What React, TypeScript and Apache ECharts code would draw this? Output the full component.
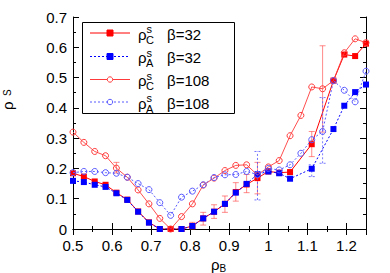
import React, { useEffect, useRef } from 'react';
import * as echarts from 'echarts';

// rho_B values (x)
const rhoB = [0.5, 0.5278, 0.5556, 0.5833, 0.6111, 0.6389, 0.6667, 0.6944, 0.7222, 0.75,
  0.7778, 0.8056, 0.8333, 0.8611, 0.8889, 0.9167, 0.9444, 0.9722, 1.0, 1.0278,
  1.0556, 1.0833, 1.1111, 1.1389, 1.1667, 1.1944, 1.2222, 1.25];

// rho_C^s beta=32 (red filled squares)
const rhoC32 = [0.184, 0.173, 0.157, 0.146, 0.12, 0.097, 0.058, 0.022, 0, 0,
  0, 0.01, 0.035, 0.057, 0.083, 0.122, 0.147, 0.168, 0.19, 0.186,
  0.188, null, 0.28, null, 0.49, 0.576, 0.571, 0.612];
// rho_A^s beta=32 (blue filled squares)
const rhoA32 = [0.159, 0.155, 0.146, 0.139, 0.118, 0.096, 0.057, 0.021, 0, null,
  0, 0.01, 0.035, 0.057, 0.083, 0.12, 0.149, 0.181, 0.19, 0.184,
  0.166, null, 0.199, null, 0.33, 0.407, 0.452, 0.477];
// rho_C^s beta=108 (red open circles)
const rhoC108 = [0.32, 0.286, 0.256, 0.242, 0.201, 0.171, 0.129, 0.083, 0.035, 0.0,
  0.041, 0.083, 0.145, 0.168, 0.193, 0.21, 0.212, 0.178, 0.205, 0.226,
  0.308, 0.375, 0.469, 0.463, 0.49, 0.582, 0.628, 0.615];
// rho_A^s beta=108 (blue open circles)
const rhoA108 = [0.186, 0.19, 0.19, 0.186, 0.184, 0.171, 0.15, 0.13, 0.087, 0.045,
  0.105, 0.125, 0.146, 0.17, 0.179, 0.18, 0.19, 0.18, 0.2, 0.195,
  0.212, 0.25, 0.295, 0.322, 0.49, 0.458, 0.42, 0.521];

// error bars [x, low, high]
const errC32 = [
  [0.8056, 0.0, 0.022],
  [0.8333, 0.013, 0.055],
  [0.8611, 0.035, 0.08],
  [0.8889, 0.055, 0.109],
  [0.9167, 0.092, 0.153],
  [0.9444, 0.12, 0.18],
  [0.9722, 0.116, 0.22],
  [1.1111, 0.239, 0.322],
];
const errA32 = [
  [0.9722, 0.096, 0.256],
  [1.1111, 0.173, 0.212],
];
const errC108 = [
  [0.6111, 0.185, 0.22],
  [1.1389, 0.32, 0.605],
];
const errA108 = [
  [1.1389, 0.217, 0.434],
];

const xMin = 0.5, xMax = 1.25, xStep = 0.1;
const yMin = 0, yMax = 0.7, yStep = 0.1;

const legendRows = [
  { sub: 'C', beta: 'β=32' },
  { sub: 'A', beta: 'β=32' },
  { sub: 'C', beta: 'β=108' },
  { sub: 'A', beta: 'β=108' },
];

const FONT = '"Liberation Sans", Arial, Helvetica, sans-serif';
const RED = '#ff0000';
const BLUE = '#0000ff';
const RED2 = '#ff3a3a';
const BLUE2 = '#5a5aff';

const pairs = (ys: (number | null)[]) =>
  rhoB.map((x, i) => [x, ys[i]]).filter((p) => p[1] !== null);

const errSeries = (data: number[][], color: string, dashed: boolean, z: number) => ({
  type: 'custom',
  z,
  silent: true,
  data,
  encode: { x: 0, y: [1, 2] },
  renderItem: (params: any, api: any) => {
    const x = api.value(0);
    const lo = api.coord([x, api.value(1)]);
    const hi = api.coord([x, api.value(2)]);
    const w = 3;
    const style: any = { stroke: color, lineWidth: 1, lineDash: dashed ? [2, 2] : null };
    return {
      type: 'group',
      children: [
        { type: 'line', shape: { x1: lo[0], y1: lo[1], x2: hi[0], y2: hi[1] }, style },
        { type: 'line', shape: { x1: lo[0] - w, y1: lo[1], x2: lo[0] + w, y2: lo[1] }, style },
        { type: 'line', shape: { x1: hi[0] - w, y1: hi[1], x2: hi[0] + w, y2: hi[1] }, style },
      ],
    };
  },
});

const fmt = (v: number) => String(Math.round(v * 10) / 10);

export default function App() {
  const ref = useRef<HTMLDivElement>(null);
  useEffect(() => {
    if (!ref.current) return;
    const chart = echarts.init(ref.current, undefined, { renderer: 'svg' });

    const axisCommon = {
      axisLine: { show: true, lineStyle: { color: '#000', width: 1 } },
      axisTick: { show: true, inside: true, length: 6, lineStyle: { color: '#000' } },
      minorTick: { show: true, splitNumber: 2, length: 3, lineStyle: { color: '#000' } },
      splitLine: { show: false },
    };

    const rowY = [33, 56.5, 79.5, 102];
    const legendSpecs = [
      { color: RED, lineType: 'solid', marker: 'square', fill: RED },
      { color: BLUE, lineType: 'dotted', marker: 'square', fill: BLUE },
      { color: RED2, lineType: 'solid', marker: 'circle', fill: 'none' },
      { color: BLUE2, lineType: 'dotted', marker: 'circle', fill: 'none' },
    ];
    const legendEls: any[] = [
      {
        type: 'rect',
        shape: { x: 82.5, y: 22.5, width: 152, height: 91 },
        style: { fill: '#fff', stroke: '#000', lineWidth: 1 },
        z: 100,
      },
    ];
    legendRows.forEach((row, i) => {
      const r = rowY[i];
      const s = legendSpecs[i];
      legendEls.push({
        type: 'line',
        shape: { x1: 90, y1: r, x2: 130, y2: r },
        style: { stroke: s.color, lineWidth: 1, lineDash: s.lineType === 'dotted' ? [2, 2] : null },
        z: 101,
      });
      if (s.marker === 'square') {
        legendEls.push({
          type: 'rect',
          shape: { x: 107, y: r - 3, width: 6, height: 6 },
          style: { fill: s.fill, stroke: s.color, lineWidth: 1 },
          z: 102,
        });
      } else {
        legendEls.push({
          type: 'circle',
          shape: { cx: 110, cy: r, r: 2.7 },
          style: { fill: '#fff', stroke: s.color, lineWidth: 1 },
          z: 102,
        });
      }
      legendEls.push(
        { type: 'text', x: 138, y: r + 1, z: 102, style: { text: 'ρ', font: `15px ${FONT}`, fill: '#000', verticalAlign: 'middle' } },
        { type: 'text', x: 146.5, y: r - 4, z: 102, style: { text: 's', font: `11px ${FONT}`, fill: '#000', verticalAlign: 'middle' } },
        { type: 'text', x: 146, y: r + 6.5, z: 102, style: { text: row.sub, font: `11px ${FONT}`, fill: '#000', verticalAlign: 'middle' } },
        { type: 'text', x: 167, y: r + 1, z: 102, style: { text: row.beta, font: `15px ${FONT}`, fill: '#000', verticalAlign: 'middle' } },
      );
    });

    const axisNames: any[] = [
      { type: 'text', x: 211, y: 264.5, style: { text: 'ρ', font: `15px ${FONT}`, fill: '#000', verticalAlign: 'middle' } },
      { type: 'text', x: 219.5, y: 268, style: { text: 'B', font: `10px ${FONT}`, fill: '#000', verticalAlign: 'middle' } },
      {
        type: 'group',
        x: 7.5,
        y: 110,
        rotation: Math.PI / 2,
        children: [
          { type: 'text', x: 0, y: 0, style: { text: 'ρ', font: `15px ${FONT}`, fill: '#000', align: 'left', verticalAlign: 'middle' } },
          { type: 'text', x: 14, y: -0.5, style: { text: 'S', font: `10px ${FONT}`, fill: '#000', align: 'left', verticalAlign: 'middle' } },
        ],
      },
    ];

    chart.setOption({
      animation: false,
      backgroundColor: '#fff',
      textStyle: { fontFamily: FONT },
      grid: { left: 73, right: 24, top: 17, bottom: 44, containLabel: false },
      xAxis: [
        {
          type: 'value', min: xMin, max: xMax, interval: xStep, position: 'bottom',
          ...axisCommon,
          axisLabel: { show: true, formatter: fmt, fontSize: 15, color: '#000', margin: 9, fontFamily: FONT, showMaxLabel: false },
        },
        {
          type: 'value', min: xMin, max: xMax, interval: xStep, position: 'top',
          ...axisCommon,
          axisLabel: { show: false },
        },
      ],
      yAxis: [
        {
          type: 'value', min: yMin, max: yMax, interval: yStep, position: 'left',
          ...axisCommon,
          axisLabel: { show: true, formatter: fmt, fontSize: 15, color: '#000', margin: 6, fontFamily: FONT },
        },
        {
          type: 'value', min: yMin, max: yMax, interval: yStep, position: 'right',
          ...axisCommon,
          axisLabel: { show: false },
        },
      ],
      graphic: [...legendEls, ...axisNames],
      series: [
        errSeries(errC32, 'rgba(255,60,60,0.6)', false, 2),
        {
          name: 'ρC^s β=32', type: 'line', data: pairs(rhoC32), z: 3,
          symbol: 'rect', symbolSize: 6,
          lineStyle: { color: RED, width: 1 },
          itemStyle: { color: RED },
        },
        errSeries(errA32, 'rgba(80,80,255,0.8)', true, 4),
        {
          name: 'ρA^s β=32', type: 'line', data: pairs(rhoA32), z: 5,
          symbol: 'rect', symbolSize: 6,
          lineStyle: { color: BLUE, width: 1, type: [2, 2] },
          itemStyle: { color: BLUE },
        },
        errSeries(errC108, 'rgba(255,60,60,0.6)', false, 6),
        {
          name: 'ρC^s β=108', type: 'line', data: pairs(rhoC108), z: 7,
          symbol: 'circle', symbolSize: 6,
          lineStyle: { color: RED2, width: 0.9 },
          itemStyle: { color: 'rgba(0,0,0,0)', borderColor: RED2, borderWidth: 1 },
        },
        errSeries(errA108, 'rgba(90,90,255,0.8)', true, 8),
        {
          name: 'ρA^s β=108', type: 'line', data: pairs(rhoA108), z: 9,
          symbol: 'circle', symbolSize: 6,
          lineStyle: { color: BLUE2, width: 1, type: [2, 2] },
          itemStyle: { color: 'rgba(0,0,0,0)', borderColor: BLUE2, borderWidth: 1 },
        },
      ],
    });
    return () => chart.dispose();
  }, []);
  return <div ref={ref} style={{ width: 390, height: 273, position: 'absolute', left: 0, top: 0 }} />;
}
